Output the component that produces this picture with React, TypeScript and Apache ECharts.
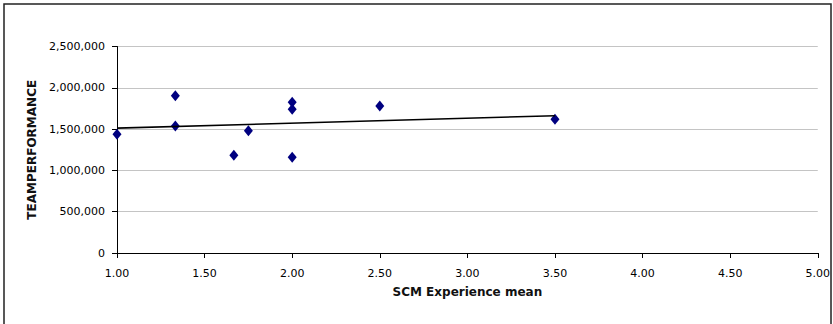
import React, { useEffect, useRef } from "react";
import * as echarts from "echarts";

const experienceMean: number[] = [1.0, 1.333, 1.333, 1.667, 1.75, 2.0, 2.0, 2.0, 2.5, 3.5];
const teamPerformance: number[] = [1437000, 1904000, 1537000, 1183000, 1481000, 1824000, 1740000, 1159000, 1780000, 1619000];
const trendX: number[] = [1.0, 3.5];
const trendY: number[] = [1512000, 1662000];

const xAxisTitle = "SCM Experience mean";
const yAxisTitle = "TEAMPERFORMANCE";

const FONT = "DejaVu Sans";

export default function App() {
  const ref = useRef<HTMLDivElement>(null);

  useEffect(() => {
    if (!ref.current) return;
    const chart = echarts.init(ref.current, undefined, { renderer: "svg" });
    const points = experienceMean.map((x, i) => [x, teamPerformance[i]]);
    const trend = trendX.map((x, i) => [x, trendY[i]]);
    chart.setOption({
      animation: false,
      backgroundColor: "#ffffff",
      grid: { left: 117, right: 12, top: 46.5, bottom: 71, containLabel: false },
      graphic: [
        {
          type: "rect",
          shape: { x: 4, y: 4, width: 827, height: 360 },
          style: { fill: "none", stroke: "#222222", lineWidth: 1.5 },
          silent: true,
          z: 100,
        },
      ],
      xAxis: {
        type: "value",
        min: 1,
        max: 5,
        interval: 0.5,
        name: xAxisTitle,
        nameLocation: "middle",
        nameGap: 33,
        nameTextStyle: { fontFamily: FONT, fontSize: 12, fontWeight: "bold", color: "#111" },
        axisLine: { show: true, onZero: false, lineStyle: { color: "#000", width: 1 } },
        axisTick: { show: true, length: 5, lineStyle: { color: "#000" } },
        axisLabel: {
          margin: 15,
          fontFamily: FONT,
          fontSize: 11,
          color: "#000",
          formatter: (v: number) => v.toFixed(2),
        },
        splitLine: { show: false },
      },
      yAxis: {
        type: "value",
        min: 0,
        max: 2500000,
        interval: 500000,
        name: yAxisTitle,
        nameLocation: "middle",
        nameGap: 74,
        nameRotate: 90,
        nameTextStyle: { fontFamily: FONT, fontSize: 12, fontWeight: "bold", color: "#111" },
        axisLine: { show: true, onZero: false, lineStyle: { color: "#000", width: 1 } },
        axisTick: { show: true, length: 5, lineStyle: { color: "#000" } },
        axisLabel: {
          margin: 12,
          fontFamily: FONT,
          fontSize: 11,
          color: "#000",
          formatter: (v: number) => v.toLocaleString("en-US"),
        },
        splitLine: { show: true, lineStyle: { color: "#c4c4c4", width: 1.2 } },
      },
      series: [
        {
          type: "scatter",
          data: points,
          symbol: "diamond",
          symbolSize: [9, 11],
          itemStyle: { color: "#000080", opacity: 1 },
          clip: false,
          z: 2,
        },
        {
          type: "line",
          data: trend,
          showSymbol: false,
          symbol: "none",
          lineStyle: { color: "#000", width: 1.6 },
          clip: false,
          z: 3,
        },
      ],
    });
    return () => chart.dispose();
  }, []);

  return (
    <div
      ref={ref}
      style={{ position: "fixed", left: 0, top: 0, width: 833, height: 324, background: "#fff" }}
    />
  );
}
